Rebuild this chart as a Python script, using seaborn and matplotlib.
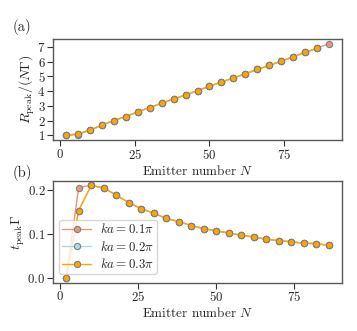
import numpy as np
import pandas as pd
import matplotlib
matplotlib.use('Agg')
import matplotlib.pyplot as plt
import seaborn as sns

# Emitter numbers
n_top = [2, 6, 10, 14, 18, 22, 26, 30, 34, 38, 42, 46, 50, 54, 58, 62, 66, 70,
         74, 78, 82, 86, 90]
n_bot = [2, 6, 10, 14, 18, 22, 26, 30, 34, 38, 42, 46, 50, 54, 58, 62, 66, 70,
         74, 78, 82, 86]

ka_labels = [r'$ka=0.1\pi$', r'$ka=0.2\pi$', r'$ka=0.3\pi$']
colors = ['darksalmon', 'lightblue', 'orange']

# R_peak / (N Gamma)
r_01 = [1.0, 1.06, 1.36, 1.70, 2.01, 2.28, 2.60, 2.89, 3.18, 3.47, 3.74, 4.03,
        4.33, 4.62, 4.89, 5.18, 5.47, 5.74, 6.03, 6.33, 6.62, 6.91, 7.22]
r_02 = [1.0, 1.12, 1.36, 1.70, 2.01, 2.28, 2.60, 2.89, 3.18, 3.47, 3.74, 4.03,
        4.33, 4.62, 4.89, 5.18, 5.47, 5.74, 6.03, 6.33, 6.62, 6.91]
r_03 = [1.0, 1.12, 1.36, 1.70, 2.01, 2.28, 2.60, 2.89, 3.18, 3.47, 3.74, 4.03,
        4.33, 4.62, 4.89, 5.18, 5.47, 5.74, 6.03, 6.33, 6.62, 6.91]

# t_peak Gamma
t_01 = [0.0, 0.205, 0.210, 0.204, 0.188, 0.171, 0.157, 0.147, 0.135, 0.128,
        0.119, 0.112, 0.107, 0.102, 0.097, 0.093, 0.088, 0.085, 0.082, 0.079,
        0.078, 0.074]
t_02 = [0.0, 0.153, 0.210, 0.204, 0.188, 0.171, 0.157, 0.147, 0.135, 0.128,
        0.119, 0.112, 0.107, 0.102, 0.097, 0.093, 0.088, 0.085, 0.082, 0.079,
        0.078, 0.074]
t_03 = [0.0, 0.153, 0.210, 0.204, 0.188, 0.171, 0.157, 0.147, 0.135, 0.128,
        0.119, 0.112, 0.107, 0.102, 0.097, 0.093, 0.088, 0.085, 0.082, 0.079,
        0.078, 0.074]

top = pd.concat([
    pd.DataFrame({'N': n_top[:len(r)], 'val': r, 'ka': lab})
    for r, lab in zip([r_01, r_02, r_03], ka_labels)
])
bot = pd.concat([
    pd.DataFrame({'N': n_bot[:len(t)], 'val': t, 'ka': lab})
    for t, lab in zip([t_01, t_02, t_03], ka_labels)
])

sns.set_style('ticks')
plt.rcParams['font.family'] = 'serif'
plt.rcParams['font.serif'] = ['cmr10']
plt.rcParams['mathtext.fontset'] = 'cm'
plt.rcParams['axes.formatter.use_mathtext'] = True
plt.rcParams['axes.unicode_minus'] = False

fig = plt.figure(figsize=(3.57, 3.31), dpi=100)
ax1 = fig.add_axes([0.1485, 0.577, 0.8095, 0.305])
ax2 = fig.add_axes([0.1485, 0.146, 0.8095, 0.308])

pal = dict(zip(ka_labels, colors))
line_kw = dict(marker='o', markersize=4.5, markeredgecolor='grey',
               markeredgewidth=0.8, linewidth=1.0)
sns.lineplot(data=top, x='N', y='val', hue='ka', palette=pal, ax=ax1,
             legend=False, **line_kw)
sns.lineplot(data=bot, x='N', y='val', hue='ka', palette=pal, ax=ax2,
             legend=False, **line_kw)

for ax in (ax1, ax2):
    ax.set_xlabel(r'Emitter number $N$', fontsize=9.5, labelpad=1.5)
    ax.set_xticks([0, 25, 50, 75])
    ax.tick_params(labelsize=9.3, length=4, width=0.8, pad=1.5, color='0.2')
    for s in ax.spines.values():
        s.set_color('0.35')
        s.set_linewidth(1.0)

ax1.set_yticks([1, 2, 3, 4, 5, 6, 7])
ax1.set_ylabel(r'$R_{\rm peak}/(N\Gamma)$', fontsize=10, labelpad=0)
ax2.set_yticks([0.0, 0.1, 0.2])
ax2.set_ylabel(r'$t_{\rm peak}\Gamma$', fontsize=10, labelpad=0)

ax2.legend(ax2.lines, ka_labels, loc='lower left',
           bbox_to_anchor=(0.021, 0.085), borderaxespad=0, fontsize=9.3,
           handlelength=2.3, borderpad=0.2, labelspacing=0.27,
           handletextpad=0.7)

fig.text(0.035, 0.905, '(a)', fontsize=10.5)
fig.text(0.035, 0.465, '(b)', fontsize=10.5)

fig.savefig('out.png', dpi=100)
